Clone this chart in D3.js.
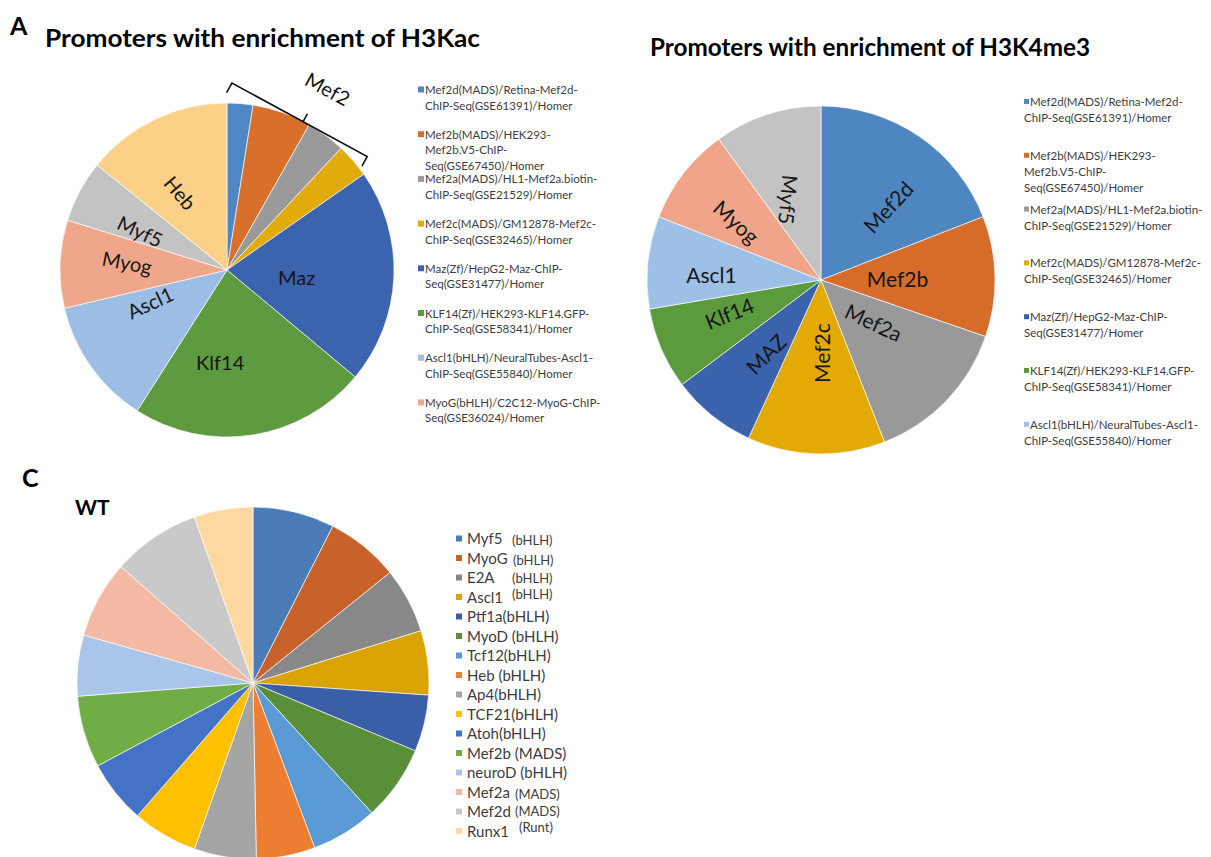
<!DOCTYPE html>
<html>
<head>
<meta charset="utf-8">
<script src="https://cdn.jsdelivr.net/npm/d3@7"></script>
<style>
  body { margin: 0; background: #fff; }
  svg { display: block; }
  text { font-family: Lato, "Open Sans", sans-serif; }
</style>
</head>
<body>
<svg id="fig" width="1211" height="857"></svg>
<script>
// ---------- Panel A, left: promoters with H3Kac enrichment (% of motifs) ----------
const kacNames  = ["Mef2d", "Mef2b", "Mef2a", "Mef2c", "Maz", "Klf14", "Ascl1", "Myog", "Myf5", "Heb"];
const kacValues = [2.5, 5.7, 3.8, 3.3, 20.8, 23.0, 12.3, 8.5, 6.0, 14.2];
const kacColors = ["#4f86c4", "#d8702c", "#9a9a9a", "#e2ab0c", "#3c63ad", "#5e9b40", "#9dbee4", "#f0a68a", "#c3c3c3", "#fdd087"];
const kacLegend = [
  ["Mef2d(MADS)/Retina-Mef2d-", "ChIP-Seq(GSE61391)/Homer"],
  ["Mef2b(MADS)/HEK293-", "Mef2b.V5-ChIP-", "Seq(GSE67450)/Homer"],
  ["Mef2a(MADS)/HL1-Mef2a.biotin-", "ChIP-Seq(GSE21529)/Homer"],
  ["Mef2c(MADS)/GM12878-Mef2c-", "ChIP-Seq(GSE32465)/Homer"],
  ["Maz(Zf)/HepG2-Maz-ChIP-", "Seq(GSE31477)/Homer"],
  ["KLF14(Zf)/HEK293-KLF14.GFP-", "ChIP-Seq(GSE58341)/Homer"],
  ["Ascl1(bHLH)/NeuralTubes-Ascl1-", "ChIP-Seq(GSE55840)/Homer"],
  ["MyoG(bHLH)/C2C12-MyoG-ChIP-", "Seq(GSE36024)/Homer"]
];

// ---------- Panel A, right: promoters with H3K4me3 enrichment ----------
const k4Names  = ["Mef2d", "Mef2b", "Mef2a", "Mef2c", "MAZ", "Klf14", "Ascl1", "Myog", "Myf5"];
const k4Values = [19.1, 11.2, 13.8, 12.8, 7.9, 7.6, 8.6, 9.1, 10.0];
const k4Colors = ["#4e86c2", "#d66b2a", "#999999", "#e2aa02", "#3b62ad", "#5b9a3d", "#9dc0e6", "#f0a58a", "#c3c3c3"];
const k4Legend = kacLegend.slice(0, 7);

// ---------- Panel C: WT ----------
const wtNames    = ["Myf5", "MyoG", "E2A", "Ascl1", "Ptf1a", "MyoD", "Tcf12", "Heb", "Ap4", "TCF21", "Atoh", "Mef2b", "neuroD", "Mef2a", "Mef2d", "Runx1"];
const wtFamilies = ["(bHLH)", "(bHLH)", "(bHLH)", "(bHLH)", "(bHLH)", "(bHLH)", "(bHLH)", "(bHLH)", "(bHLH)", "(bHLH)", "(bHLH)", "(MADS)", "(bHLH)", "(MADS)", "(MADS)", "(Runt)"];
const wtValues   = [7.5, 6.7, 6.0, 5.9, 5.2, 6.9, 6.1, 5.4, 5.7, 6.0, 5.8, 6.6, 5.6, 7.1, 8.1, 5.4];
const wtColors   = ["#4a7db7", "#c8622a", "#888888", "#d9a302", "#3a5ea8", "#5a8f3a", "#5b9bd5", "#ed7d31", "#a5a5a5", "#ffc000", "#4472c4", "#70ad47", "#a9c5ea", "#f4b9a3", "#c9c9c9", "#fed8a0"];

// ---------- label placement (offset from slice middle, radius fraction, rotation) ----------
const kacLabelLayout = {
  Maz:   { da: 4,    f: 0.42, rot: 0 },
  Klf14: { da: 13,   f: 0.56, rot: 0 },
  Ascl1: { da: 12,   f: 0.50, rot: -25 },
  Myog:  { da: 2,    f: 0.60, rot: 11 },
  Myf5:  { da: -4.4, f: 0.57, rot: 25 },
  Heb:   { da: -6,   f: 0.54, rot: 50 }
};
const k4LabelLayout = {
  Mef2d: { da: 8.6,  f: 0.57, rot: -47 },
  Mef2b: { da: 1,    f: 0.44, rot: 0 },
  Mef2a: { da: -4.5, f: 0.39, rot: 25 },
  Mef2c: { da: -3,   f: 0.42, rot: -90 },
  MAZ:   { da: -2.5, f: 0.53, rot: -45 },
  Klf14: { da: 3,    f: 0.56, rot: -22 },
  Ascl1: { da: -3.4, f: 0.63, rot: 0 },
  Myog:  { da: -3.5, f: 0.59, rot: 42 },
  Myf5:  { da: -4.4, f: 0.50, rot: 95 }
};
// family tags in the WT legend that sit in their own column
const wtTagColumn = {
  Myf5:  { x: 512, dy: 1 },
  MyoG:  { x: 513, dy: 2 },
  E2A:   { x: 512, dy: 0 },
  Ascl1: { x: 512, dy: -3 },
  Mef2a: { x: 515, dy: 2 },
  Mef2d: { x: 515, dy: -1 },
  Runx1: { x: 519, dy: -4 }
};
const wtTagJoined = ["Ptf1a", "Tcf12", "Ap4", "TCF21", "Atoh"];

const svg = d3.select("#fig");
const rad = deg => deg * Math.PI / 180;

function drawPie({ cx, cy, r, names, values, colors, labels, labelSize }) {
  const g = svg.append("g").attr("transform", `translate(${cx},${cy})`);
  const data = names.map((n, i) => ({ name: n, value: values[i], color: colors[i] }));
  const arcs = d3.pie().sort(null).value(d => d.value)(data);
  const arc = d3.arc().innerRadius(0).outerRadius(r);
  g.selectAll("path.slice").data(arcs).join("path")
    .attr("class", "slice")
    .attr("d", arc)
    .attr("fill", d => d.data.color)
    .attr("stroke", "#ffffff")
    .attr("stroke-width", 0.8)
    .attr("stroke-opacity", 0.8);
  if (labels) {
    g.selectAll("text.lbl").data(arcs.filter(d => labels[d.data.name])).join("text")
      .attr("class", "lbl")
      .attr("transform", d => {
        const L = labels[d.data.name];
        const a = (d.startAngle + d.endAngle) / 2 + rad(L.da);
        const rr = r * L.f;
        return `translate(${Math.sin(a) * rr},${-Math.cos(a) * rr}) rotate(${L.rot})`;
      })
      .attr("text-anchor", "middle")
      .attr("dy", "0.36em")
      .attr("font-size", labelSize)
      .attr("fill", "#161616")
      .text(d => d.data.name);
  }
  return { g, arcs, r };
}

function drawLegend({ x, y0, step, lineH, colors, entries, box, textX, wrapX, size }) {
  const g = svg.append("g");
  entries.forEach((lines, i) => {
    const y = y0 + i * step;
    g.append("rect")
      .attr("x", x).attr("y", y - box / 2 - 0.5)
      .attr("width", box).attr("height", box)
      .attr("fill", colors[i]);
    lines.forEach((ln, j) => {
      g.append("text")
        .attr("x", j === 0 ? textX : wrapX)
        .attr("y", y + j * lineH)
        .attr("dy", "0.35em")
        .attr("font-size", size)
        .attr("fill", "#3d3d3d")
        .text(ln);
    });
  });
}

// ---------- panel letters and titles ----------
svg.append("text").attr("x", 10).attr("y", 35).attr("font-size", 25).attr("font-weight", 700).text("A");
svg.append("text").attr("x", 45).attr("y", 47).attr("font-size", 24).attr("font-weight", 700)
  .attr("textLength", 435).attr("lengthAdjust", "spacingAndGlyphs")
  .text("Promoters with enrichment of H3Kac");
svg.append("text").attr("x", 650).attr("y", 56).attr("font-size", 24).attr("font-weight", 700)
  .attr("textLength", 440).attr("lengthAdjust", "spacingAndGlyphs")
  .text("Promoters with enrichment of H3K4me3");
svg.append("text").attr("x", 22).attr("y", 487).attr("font-size", 25).attr("font-weight", 700).text("C");
svg.append("text").attr("x", 75).attr("y", 515).attr("font-size", 21).attr("font-weight", 700).text("WT");

// ---------- H3Kac pie ----------
const kac = drawPie({ cx: 227, cy: 270, r: 167, names: kacNames, values: kacValues, colors: kacColors, labels: kacLabelLayout, labelSize: 20 });

// bracket grouping the four Mef2 slices
{
  const a0 = kac.arcs[0].startAngle + rad(1.5);
  const a1 = kac.arcs[3].endAngle - rad(4);
  const p0 = [Math.sin(a0) * kac.r * 1.12, -Math.cos(a0) * kac.r * 1.12];
  const p1 = [Math.sin(a1) * kac.r * 1.08, -Math.cos(a1) * kac.r * 1.08];
  const dx = p1[0] - p0[0], dy = p1[1] - p0[1];
  const len = Math.hypot(dx, dy);
  const u = [dx / len, dy / len];        // along the bracket
  const n = [u[1], -u[0]];               // pointing away from the pie
  const tick = 11;
  const m = [(p0[0] + p1[0]) / 2 + u[0] * 4, (p0[1] + p1[1]) / 2 + u[1] * 4];
  const path = d3.path();
  path.moveTo(p0[0] - n[0] * tick, p0[1] - n[1] * tick);
  path.lineTo(p0[0], p0[1]);
  path.lineTo(p1[0], p1[1]);
  path.lineTo(p1[0] - n[0] * tick, p1[1] - n[1] * tick);
  path.moveTo(m[0], m[1]);
  path.lineTo(m[0] + n[0] * 9, m[1] + n[1] * 9);
  kac.g.append("path").attr("d", path.toString())
    .attr("fill", "none").attr("stroke", "#111").attr("stroke-width", 1.6)
    .attr("stroke-linejoin", "miter");
  const ang = Math.atan2(dy, dx) * 180 / Math.PI;
  const tp = [m[0] + n[0] * 40 + u[0] * 6, m[1] + n[1] * 40 + u[1] * 6];
  kac.g.append("text")
    .attr("transform", `translate(${tp[0]},${tp[1]}) rotate(${ang})`)
    .attr("text-anchor", "middle").attr("dy", "0.35em")
    .attr("font-size", 20).attr("fill", "#161616")
    .text("Mef2");
}

drawLegend({ x: 418, y0: 90, step: 44.7, lineH: 15.5, colors: kacColors, entries: kacLegend, box: 6, textX: 425, wrapX: 425, size: 11.5 });

// ---------- H3K4me3 pie ----------
drawPie({ cx: 821, cy: 280, r: 174, names: k4Names, values: k4Values, colors: k4Colors, labels: k4LabelLayout, labelSize: 21 });
drawLegend({ x: 1024, y0: 102, step: 53.8, lineH: 16, colors: k4Colors, entries: k4Legend, box: 5, textX: 1030, wrapX: 1024, size: 11.5 });

// ---------- WT pie ----------
drawPie({ cx: 253, cy: 683, r: 176, names: wtNames, values: wtValues, colors: wtColors });

{
  const g = svg.append("g");
  wtNames.forEach((name, i) => {
    const y = 539 + i * 19.5;
    g.append("rect").attr("x", 456).attr("y", y - 3.5).attr("width", 6).attr("height", 6).attr("fill", wtColors[i]);
    const col = wtTagColumn[name];
    const t = g.append("text").attr("x", 467).attr("y", y).attr("dy", "0.35em")
      .attr("font-size", 15).attr("fill", "#3d3d3d");
    if (col) {
      t.text(name);
      g.append("text").attr("x", col.x).attr("y", y + col.dy).attr("dy", "0.35em")
        .attr("font-size", 13).attr("fill", "#3d3d3d").text(wtFamilies[i]);
    } else {
      t.text(name + (wtTagJoined.includes(name) ? "" : " ") + wtFamilies[i]);
    }
  });
}
</script>
</body>
</html>
